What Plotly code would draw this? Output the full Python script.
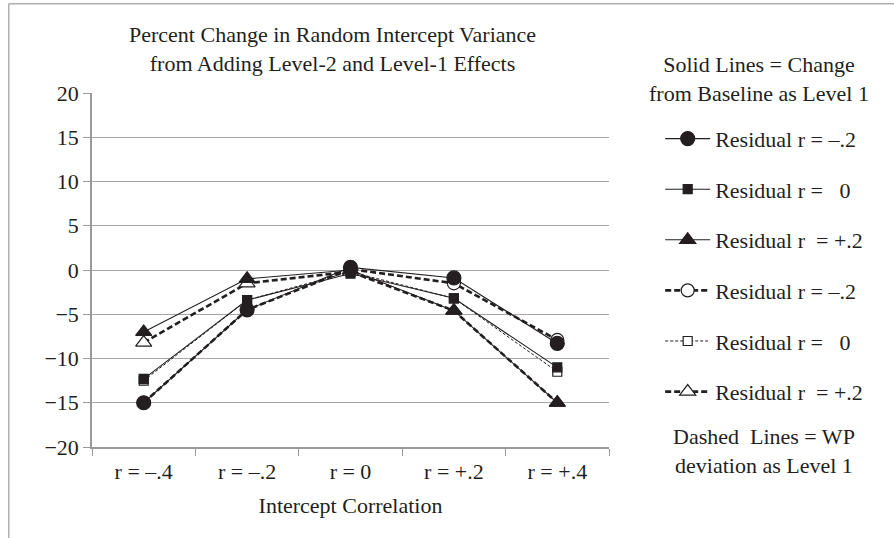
import plotly.graph_objects as go

# Intercept correlation categories
categories = ["r = \u2013.4", "r = \u2013.2", "r = 0", "r = +.2", "r = +.4"]

# Percent change in random intercept variance
# Solid lines: change from baseline as level 1
base_res_neg = [-15.0, -4.5, 0.3, -0.9, -8.3]
base_res_zero = [-12.3, -3.4, -0.4, -3.2, -11.0]
base_res_pos = [-7.0, -1.0, 0.0, -4.6, -15.0]
# Dashed lines: WP deviation as level 1
wp_res_neg = [-15.0, -4.5, 0.1, -1.5, -7.9]
wp_res_zero = [-12.5, -3.4, -0.2, -3.2, -11.5]
wp_res_pos = [-8.2, -1.5, -0.2, -4.6, -15.0]

y_ticks = [20, 15, 10, 5, 0, -5, -10, -15, -20]
y_tick_text = ["20", "15", "10", "5", "0", "\u22125", "\u221210", "\u221215", "\u221220"]

INK = "#231f20"
FONT = "Liberation Serif, Times New Roman, serif"
FS = 22

fig = go.Figure()

series = [
    # name, values, dash, width, symbol, size, fill, rank
    ("Residual r = \u2013.2", wp_res_neg, "6px,3px", 2.6, "circle", 13, "white", 4),
    ("Residual r =\u00a0\u00a0 0", wp_res_zero, "3px,2px", 1.0, "square", 9, "white", 5),
    ("Residual r\u00a0 = +.2", wp_res_pos, "6px,3px", 2.6, "triangle-up", 14, "white", 6),
    ("Residual r = \u2013.2", base_res_neg, "solid", 1.1, "circle", 14, INK, 1),
    ("Residual r =\u00a0\u00a0 0", base_res_zero, "solid", 1.1, "square", 9, INK, 2),
    ("Residual r\u00a0 = +.2", base_res_pos, "solid", 1.1, "triangle-up", 14, INK, 3),
]

for name, vals, dash, width, symbol, size, fill, rank in series:
    fig.add_trace(go.Scatter(
        x=categories, y=vals, name=name, mode="lines+markers",
        line=dict(color=INK, width=width, dash=dash),
        marker=dict(symbol=symbol, size=size, color=fill,
                    line=dict(color=INK, width=1.2)),
        legendrank=rank, legendgroup=f"g{rank}",
    ))

fig.update_layout(
    width=894, height=538,
    margin=dict(l=92, r=285, t=93, b=91),
    paper_bgcolor="white", plot_bgcolor="white",
    font=dict(family=FONT, size=FS, color=INK),
    showlegend=True,
    legend=dict(
        x=1.099, xanchor="left", y=0.93, yanchor="top",
        font=dict(family=FONT, size=FS, color=INK),
        tracegroupgap=19, itemwidth=45,
        bgcolor="rgba(0,0,0,0)",
    ),
    xaxis=dict(
        type="category", tickson="boundaries",
        showline=True, linecolor="#9a9a9a", linewidth=1.5,
        ticks="outside", ticklen=7, tickcolor="#9a9a9a",
        showgrid=False, zeroline=False,
        tickfont=dict(family=FONT, size=FS, color=INK),
        ticklabelstandoff=4,
        title=dict(text="Intercept Correlation", standoff=14,
                   font=dict(family=FONT, size=FS, color=INK)),
        range=[-0.5, 4.5],
    ),
    yaxis=dict(
        range=[-20, 20], tickvals=y_ticks, ticktext=y_tick_text,
        showline=True, linecolor="#9a9a9a", linewidth=1.5,
        ticks="outside", ticklen=7, tickcolor="#9a9a9a",
        showgrid=True, gridcolor="#a6a6a6", gridwidth=1.2,
        zeroline=False,
        tickfont=dict(family=FONT, size=FS, color=INK),
    ),
)

# Chart and legend headings
fig.add_annotation(
    text="Percent Change in Random Intercept Variance<br>from Adding Level-2 and Level-1 Effects",
    xref="paper", yref="paper", x=0.465, y=1.205, xanchor="center", yanchor="top",
    showarrow=False, font=dict(family=FONT, size=FS, color=INK), align="center",
)
fig.add_annotation(
    text="Solid Lines = Change<br>from Baseline as Level 1",
    xref="paper", yref="paper", x=1.29, y=1.121, xanchor="center", yanchor="top",
    showarrow=False, font=dict(family=FONT, size=FS, color=INK), align="center",
)
fig.add_annotation(
    text="Dashed\u00a0 Lines = WP<br>deviation as Level 1",
    xref="paper", yref="paper", x=1.30, y=0.071, xanchor="center", yanchor="top",
    showarrow=False, font=dict(family=FONT, size=FS, color=INK), align="center",
)

# Frame lines along the top and left edges
fig.add_shape(type="line", xref="paper", yref="paper",
              x0=-0.161, x1=1.6, y0=1.252, y1=1.252,
              line=dict(color="#b0b0b0", width=1.5))
fig.add_shape(type="line", xref="paper", yref="paper",
              x0=-0.161, x1=-0.161, y0=-0.3, y1=1.252,
              line=dict(color="#b0b0b0", width=1.5))

fig.write_html("out.html")
